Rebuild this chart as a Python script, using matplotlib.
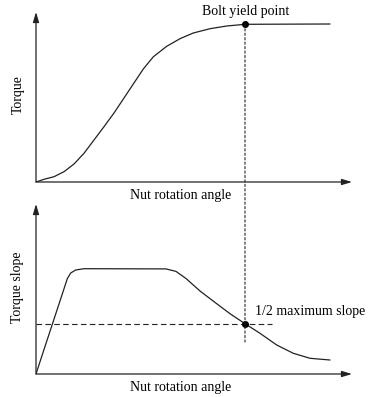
import matplotlib
matplotlib.use("Agg")
import matplotlib.pyplot as plt
from matplotlib.patches import ConnectionPatch

# --- data (arbitrary units) ---
angle_top = [0, 8, 18, 28, 38, 48, 58, 68, 78, 88, 97.3, 107.3, 117.3, 130.7, 144, 157.3, 174, 190.7, 209, 294]
torque = [0, 2.7, 5.3, 10.3, 18, 28.7, 42, 55.3, 69, 84, 98, 113, 125.2, 135.7, 143.3, 149, 153.3, 156, 157.7, 158]

angle_bot = [0, 8, 18, 28, 31.3, 34.7, 39.7, 48, 130, 140, 150, 164, 180.7, 194, 209, 224, 240.7, 257.3, 274, 294]
slope = [0, 24.5, 54.8, 85.2, 95.3, 101, 104, 105.3, 105.1, 102.6, 95.5, 83, 70.3, 60.3, 50.3, 40.7, 29, 20.7, 15.7, 14]

yield_angle = 209
yield_torque = 157.7
half_slope = 50.3
half_line_end = 236

xlabel = "Nut rotation angle"
ylabel_top = "Torque"
ylabel_bot = "Torque slope"
yield_label = "Bolt yield point"
half_label = "1/2 maximum slope"

plt.rcParams['font.family'] = ['Liberation Serif', 'DejaVu Serif']

W, H = 379, 397
fig = plt.figure(figsize=(W / 100, H / 100), dpi=100)

XMAX, YMAX = 320, 172
ax_top = fig.add_axes([36 / W, (H - 182) / H, XMAX / W, YMAX / H])
ax_bot = fig.add_axes([36 / W, (H - 374) / H, XMAX / W, YMAX / H])

lc = '#222222'
for ax in (ax_top, ax_bot):
    ax.set_xlim(0, XMAX)
    ax.set_ylim(0, YMAX)
    ax.axis('off')
    ax.patch.set_alpha(0)
    # axis arrows
    ax.annotate('', xy=(316, 0), xytext=(0, 0), xycoords='data',
                arrowprops=dict(arrowstyle='-|>,head_length=0.6,head_width=0.18', color=lc, lw=0.9,
                                shrinkA=0, shrinkB=0), annotation_clip=False)
    ax.annotate('', xy=(0, 170), xytext=(0, 0), xycoords='data',
                arrowprops=dict(arrowstyle='-|>,head_length=0.6,head_width=0.18', color=lc, lw=0.9,
                                shrinkA=0, shrinkB=0), annotation_clip=False)

ax_top.plot(angle_top, torque, color=lc, lw=0.9, solid_capstyle='round', solid_joinstyle='round')
ax_top.plot([yield_angle], [yield_torque], 'o', color='black', ms=4, zorder=5)

ax_bot.plot(angle_bot, slope, color=lc, lw=0.9, solid_capstyle='round', solid_joinstyle='round')
ax_bot.plot([0, half_line_end], [half_slope, half_slope], color=lc, lw=0.8, ls=(0, (5, 3)))
ax_bot.plot([yield_angle], [half_slope], 'o', color='black', ms=4, zorder=5)

con = ConnectionPatch(xyA=(yield_angle, yield_torque), coordsA=ax_top.transData,
                      xyB=(yield_angle, 32), coordsB=ax_bot.transData,
                      color=lc, lw=0.8, ls=(0, (2, 2)))
fig.add_artist(con)

fs = 10
fig.text(18 / W, 1 - 95 / H, ylabel_top, rotation=90, ha='center', va='center', fontsize=fs)
fig.text(18 / W, 1 - 287 / H, ylabel_bot, rotation=90, ha='center', va='center', fontsize=fs)
fig.text(181 / W, 1 - 195 / H, xlabel, ha='center', va='center', fontsize=fs)
fig.text(181 / W, 1 - 387 / H, xlabel, ha='center', va='center', fontsize=fs)
fig.text(246 / W, 1 - 11 / H, yield_label, ha='center', va='center', fontsize=fs)
fig.text(255 / W, 1 - 312 / H, half_label, ha='left', va='center', fontsize=fs)

fig.savefig('out.png', dpi=100)
